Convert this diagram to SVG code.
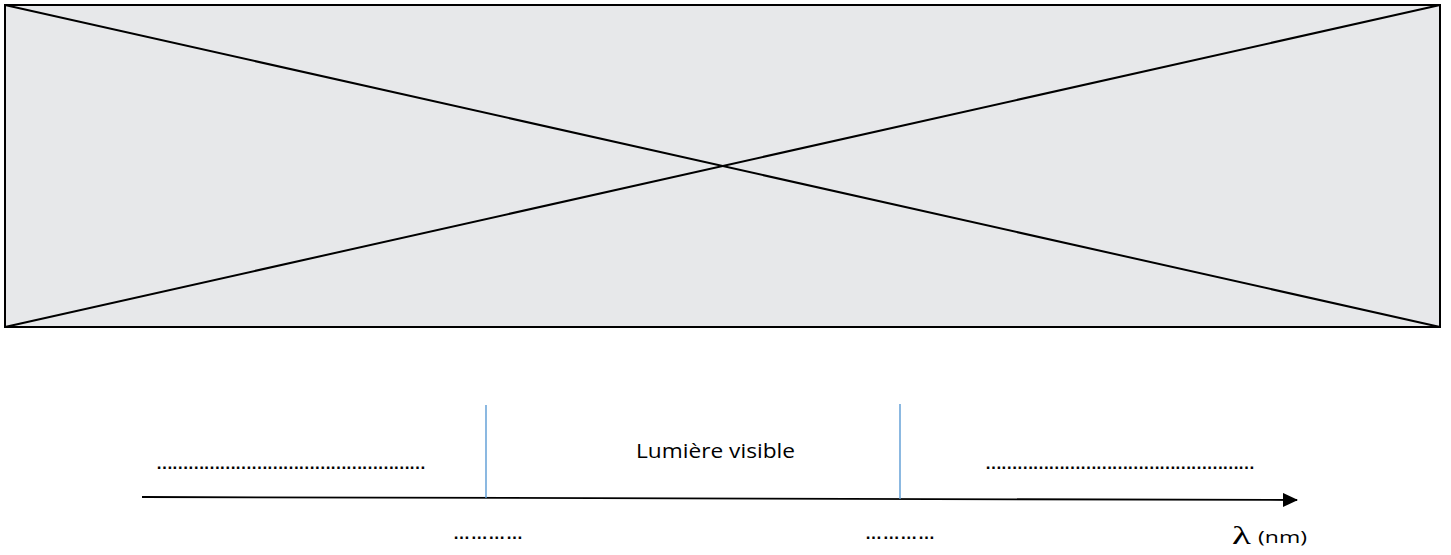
<svg xmlns="http://www.w3.org/2000/svg" width="1451" height="555" viewBox="0 0 1451 555">
<defs>
<style>
.box{fill:#e7e8ea;stroke:#000;stroke-width:2}
.diag{stroke:#000;stroke-width:2;fill:none}
.axis{stroke:#000;stroke-width:1.8;fill:none}
.tick{stroke:#5b9bd5;stroke-width:1.4;fill:none}
.dots{font-family:"Liberation Sans",Arial,sans-serif;font-size:17px;font-weight:bold;fill:#000}
.lbl{font-family:"Open Sans","Liberation Sans",sans-serif;font-size:20px;fill:#000}
</style>
<marker id="arrow" markerUnits="userSpaceOnUse" markerWidth="16" markerHeight="14" refX="14" refY="7" orient="auto">
<path d="M0,0 L15,7 L0,14 Z" fill="#000"/>
</marker>
</defs>
<g id="frame">
<rect class="box" x="5" y="5" width="1435" height="322"/>
<line class="diag" x1="5" y1="5" x2="1440" y2="327"/>
<line class="diag" x1="5" y1="327" x2="1440" y2="5"/>
</g>
<g id="connectors">
<line class="axis" x1="142" y1="497" x2="1297" y2="500" marker-end="url(#arrow)"/>
<line class="tick" x1="486" y1="405" x2="486" y2="498"/>
<line class="tick" x1="900" y1="404" x2="900" y2="499"/>
</g>
<g id="labels">
<text class="dots" x="156" y="469" textLength="270" lengthAdjust="spacing">……………………………………………</text>
<text class="dots" x="985" y="469" textLength="270" lengthAdjust="spacing">……………………………………………</text>
<text class="dots" x="453" y="539" textLength="70" lengthAdjust="spacing">…………</text>
<text class="dots" x="865" y="539" textLength="70" lengthAdjust="spacing">…………</text>
<text class="lbl" x="636" y="458" textLength="159" lengthAdjust="spacingAndGlyphs">Lumière visible</text>
<text x="1232" y="544" textLength="19" lengthAdjust="spacingAndGlyphs" style="font-family:'Liberation Serif','Times New Roman',serif;font-size:26px">λ</text>
<text x="1258" y="543" textLength="49" lengthAdjust="spacingAndGlyphs" style="font-family:'Open Sans','Liberation Sans',sans-serif;font-size:17px">(nm)</text>
</g>
</svg>
